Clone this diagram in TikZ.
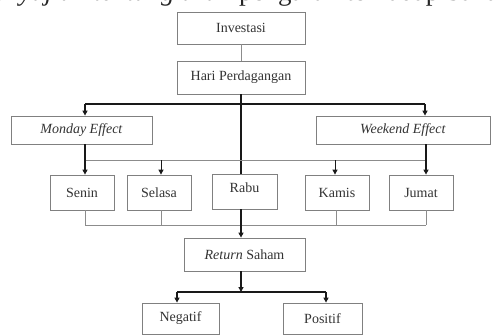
\documentclass[tikz,border=0pt]{standalone}
\usepackage{fontspec}
\setmainfont{Liberation Serif}
\usetikzlibrary{arrows.meta}
\begin{document}
\begin{tikzpicture}[x=1pt,y=-1pt,
  box/.style={draw=black!50,line width=0.8pt,rectangle,inner sep=0pt,
    text=black!80,font=\fontsize{14}{16}\selectfont},
  thickln/.style={draw=black!90,line width=1.3pt},
  thinln/.style={draw=black!45,line width=0.8pt},
  arr/.style={-{Triangle[length=5pt,width=5pt]}}
]
\useasboundingbox (0,0) rectangle (496,335);
\fill[white] (0,0) rectangle (496,335);
\begin{scope}
\clip (0,0) rectangle (496,335);
\node[anchor=south,inner sep=0pt,font=\fontsize{27}{30}\selectfont,text=black!85] (cap) at (250,7)
  {\textit{penyajian tentang arah}\ pengaruh terhadap Saham};
\end{scope}
% boxes
\node[box,minimum width=128pt,minimum height=32pt] (inv) at (241,28) {Investasi};
\node[box,minimum width=128pt,minimum height=33pt] (hari) at (241,77.5) {Hari Perdagangan};
\node[box,minimum width=141pt,minimum height=28pt] (mon) at (81.5,130) {\textit{Monday Effect}};
\node[box,minimum width=174pt,minimum height=28pt] (wk) at (403,130) {\textit{Weekend Effect}};
\node[box,minimum width=64pt,minimum height=35pt] (senin) at (82,192.5) {Senin};
\node[box,minimum width=64pt,minimum height=35pt] (selasa) at (159,192.5) {Selasa};
\node[box,minimum width=65pt,minimum height=35pt,text depth=7pt] (rabu) at (244.5,191.5) {Rabu};
\node[box,minimum width=64pt,minimum height=35pt] (kamis) at (337,192.5) {Kamis};
\node[box,minimum width=64pt,minimum height=35pt] (jumat) at (421,192.5) {Jumat};
\node[box,minimum width=121pt,minimum height=33pt] (ret) at (244.5,254.5) {\textit{Return} Saham};
\node[box,minimum width=77pt,minimum height=31pt] (neg) at (180.5,318.5) {Negatif};
\node[box,minimum width=79pt,minimum height=31pt] (pos) at (322.5,318.5) {Positif};
% coordinates
\coordinate (j1) at (241,104);
\coordinate (jl) at (85,104);
\coordinate (jr) at (425,104);
\coordinate (m1) at (85,160);
\coordinate (m2) at (426,160);
\coordinate (b1) at (85,225);
\coordinate (b2) at (426,225);
\coordinate (r1) at (241,292);
\coordinate (rl) at (177,292);
\coordinate (rr) at (326,292);
% connectors
\draw[thinln] (inv.south) -- (hari.south |- inv.south) -- (hari.north);
\draw[thickln] (hari.south) -- (hari.south |- rabu.north);
\draw[thickln] (jl) -- (jr);
\draw[thickln,arr] (jl) -- (jl |- mon.north);
\draw[thickln,arr] (jr) -- (jr |- wk.north);
\draw[thinln] (m1) -- (m2);
\draw[thickln,arr] (m1 |- mon.south) -- (m1 |- senin.north);
\draw[thickln,arr] (m2 |- wk.south) -- (m2 |- jumat.north);
\draw[black!90,line width=0.9pt,arr] (161,160) -- (selasa.north -| 161,0);
\draw[black!90,line width=0.9pt,arr] (335,160) -- (kamis.north -| 335,0);
\draw[thinln] (b1) -- (b2);
\draw[thinln] (b1 |- senin.south) -- (b1);
\draw[thinln] (161,225) -- (selasa.south -| 161,0);
\draw[thinln] (336,225) -- (kamis.south -| 336,0);
\draw[thinln] (b2 |- jumat.south) -- (b2);
\draw[thickln,arr] (hari.south |- rabu.south) -- (hari.south |- ret.north);
\draw[thickln,arr] (hari.south |- ret.south) -- (r1);
\draw[thickln] (rl) -- (rr);
\draw[thickln,arr] (rl) -- (rl |- neg.north);
\draw[thickln,arr] (rr) -- (rr |- pos.north);
\end{tikzpicture}
\end{document}
